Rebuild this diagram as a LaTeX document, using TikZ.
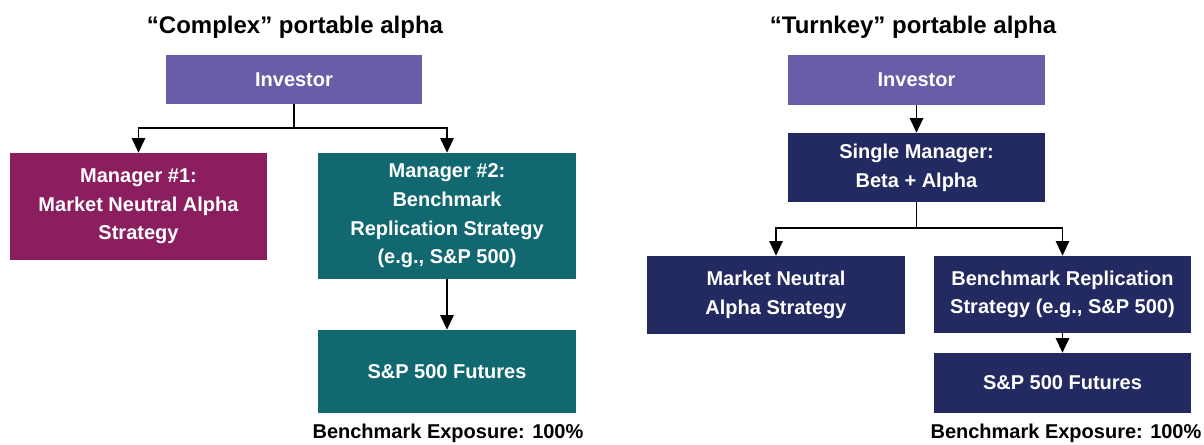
\documentclass[tikz,border=0pt]{standalone}
\usepackage{fontspec}
\setmainfont{Liberation Sans}
\usepackage{xcolor}
\usetikzlibrary{arrows.meta, positioning}
\definecolor{invcol}{RGB}{104,94,168}
\definecolor{mgrcol}{RGB}{139,30,95}
\definecolor{tealcol}{RGB}{17,104,112}
\definecolor{navycol}{RGB}{35,42,98}
\tikzset{
	box/.style={fill=#1, text=white, inner sep=0pt, align=center,
		font=\bfseries\fontsize{15}{21.5}\selectfont},
	ttl/.style={font=\bfseries\fontsize{18}{22}\selectfont},
	note/.style={font=\bfseries\fontsize{15}{18}\selectfont},
	link/.style={line width=1.4pt, -{Triangle[width=10pt,length=11pt]}}
}

\begin{document}
\begin{tikzpicture}[
	x=0.75pt, y=-0.75pt,
	w/.style={minimum width=#1*0.75pt},
	h/.style={minimum height=#1*0.75pt}]
	\useasboundingbox (0,0) rectangle (1204,445);
	% complex
	\node[ttl] (t1) at (295,27) {“Complex” portable alpha};
	\node[box=invcol, w=256, h=49] (inv1) at (294,79.5) {Investor};
	\node[box=mgrcol, w=257, h=107] (mgr1) at (138.5,206.5) {Manager \#1:\\Market Neutral Alpha\\Strategy};
	\node[box=tealcol, w=258, h=126] (mgr2) at (447,216) {Manager \#2:\\Benchmark\\Replication Strategy\\(e.g., S\&P 500)};
	\node[box=tealcol, w=258, h=83] (fut1) at (447,371.5) {S\&P 500 Futures};
	\node[note] (exp1) at (448,433) {Benchmark Exposure: 100\%};
	\coordinate (j1) at (294,128);
	\draw[line width=1.4pt] (inv1.south) -- (j1);
	\draw[link] (j1) -| (mgr1.north);
	\draw[link] (j1) -| (mgr2.north);
	\draw[link] (mgr2) -- (fut1);
	% turnkey
	\node[ttl] (t2) at (913,27) {“Turnkey” portable alpha};
	\node[box=invcol, w=257, h=50] (inv2) at (916.5,80) {Investor};
	\node[box=navycol, w=257, h=69] (sgl) at (916.5,167.5) {Single Manager:\\Beta + Alpha};
	\node[box=navycol, w=258, h=78] (mn) at (776,295) {Market Neutral\\Alpha Strategy};
	\node[box=navycol, w=257, h=77] (bmr) at (1062.5,294.5) {Benchmark Replication\\Strategy (e.g., S\&P 500)};
	\node[box=navycol, w=257, h=60] (fut2) at (1062.5,383) {S\&P 500 Futures};
	\node[note] (exp2) at (1066,433) {Benchmark Exposure: 100\%};
	\coordinate (j2) at (916.5,228);
	\draw[link] (inv2) -- (sgl);
	\draw[line width=1.4pt] (sgl.south) -- (j2);
	\draw[link] (j2) -| (mn.north);
	\draw[link] (j2) -| (bmr.north);
	\draw[link] (bmr) -- (fut2);
\end{tikzpicture}
\end{document}
